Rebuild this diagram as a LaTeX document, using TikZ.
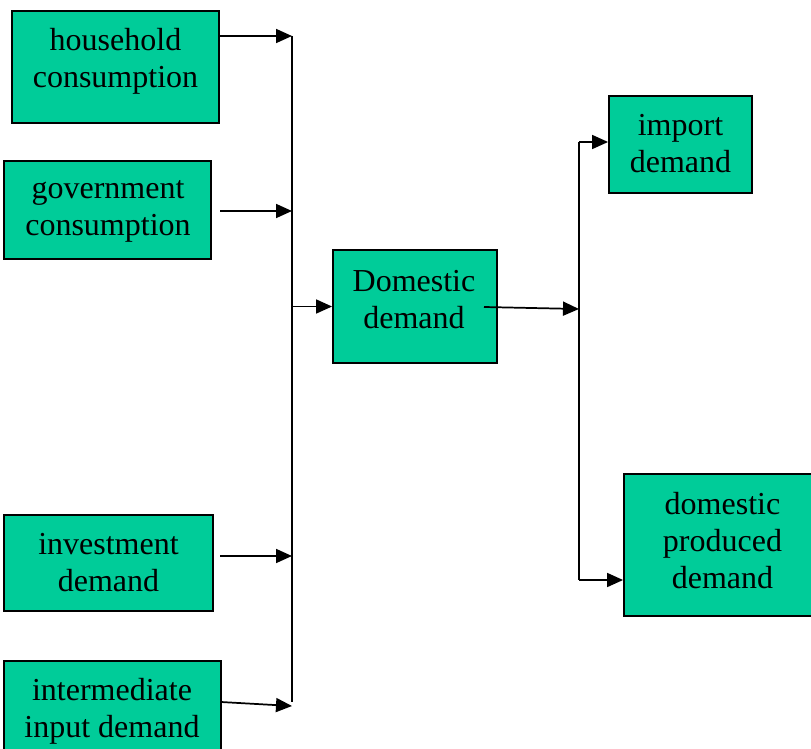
\documentclass[tikz,border=0pt]{standalone}
\usepackage{fontspec}
\setmainfont{Liberation Serif}
\usetikzlibrary{arrows.meta}
\definecolor{boxgreen}{RGB}{0,204,153}
\tikzset{
  box/.style={draw=black, fill=boxgreen, line width=1.4pt, inner sep=0pt},
  txt/.style={align=center, inner sep=0pt, font=\fontsize{24}{27.75}\selectfont},
  arr/.style={line width=1.3pt, -{Triangle[length=12pt,width=10.5pt]}},
  ln/.style={line width=1.3pt}
}
\begin{document}
\begin{tikzpicture}[x=0.75pt,y=-0.75pt]
\useasboundingbox (0,0) rectangle (811,749);
% boxes
\node[box, minimum width=155.25pt, minimum height=84pt]   (hc) at (115.5,67)  {};
\node[box, minimum width=155.25pt, minimum height=73.5pt] (gc) at (107.5,210) {};
\node[box, minimum width=156.75pt, minimum height=72pt]   (id) at (108.5,563) {};
\node[box, minimum width=162.75pt, minimum height=75pt]   (ii) at (112.5,711) {};
\node[box, minimum width=123pt,    minimum height=84.75pt](dd) at (415,306.5) {};
\node[box, minimum width=107.25pt, minimum height=72.75pt](im) at (680.5,144.5) {};
\node[box, minimum width=147.75pt, minimum height=106.5pt](dp) at (722.5,545) {};
% texts
\node[txt] (hc-t) at (115.5,61)   {household\\consumption};
\node[txt] (gc-t) at (108,211)    {government\\consumption};
\node[txt] (id-t) at (108.5,562.5){investment\\demand};
\node[txt] (ii-t) at (112,711)    {intermediate\\input demand};
\node[txt] (dd-t) at (414,300)    {Domestic\\demand};
\node[txt] (im-t) at (680.5,143.5){import\\demand};
\node[txt] (dp-t) at (722.5,540.5){domestic\\produced\\demand};
% junction coordinates
\coordinate (jl-top) at (292,36);
\coordinate (jl-bot) at (292,702);
\coordinate (jr-top) at (579,142);
\coordinate (jr-bot) at (579,580);
\coordinate (gc-o) at (220,211);
\coordinate (id-o) at (220,556);
\coordinate (ii-o) at (221,702);
\coordinate (ii-i) at (292,706);
\coordinate (dd-o) at (484,307);
\coordinate (dd-i) at (579,309);
% collector lines
\draw[ln] (jl-top) -- (jl-bot);
\draw[ln] (jr-top) -- (jr-bot);
% input arrows
\draw[arr] (jl-top -| hc.east) -- (jl-top);
\draw[arr] (gc-o) -- (gc-o -| jl-top);
\draw[arr] (id-o) -- (id-o -| jl-top);
\draw[arr] (ii-o) -- (ii-i);
\draw[arr] (dd.west -| jl-top) -- (dd.west);
% output arrows
\draw[arr] (dd-o) -- (dd-i);
\draw[arr] (jr-top) -- (jr-top -| im.west);
\draw[arr] (jr-bot) -- (jr-bot -| dp.west);
\end{tikzpicture}
\end{document}
